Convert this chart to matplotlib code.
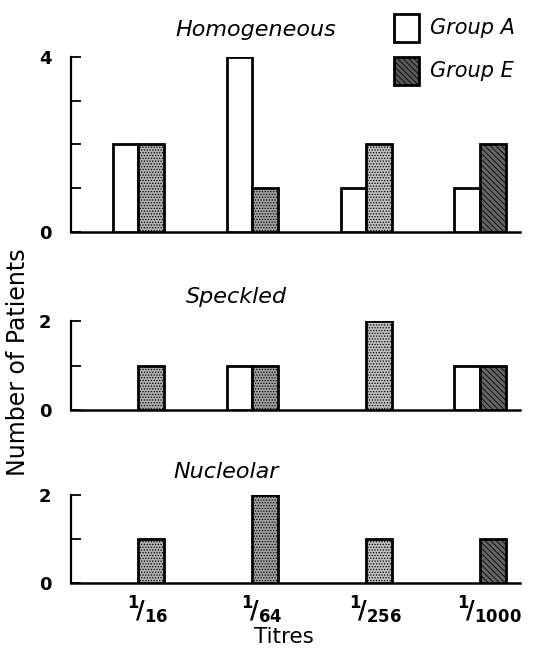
"""Three stacked bar panels: number of patients per titre, Group A vs Group E."""
import matplotlib
matplotlib.use("Agg")
import matplotlib.pyplot as plt
import numpy as np

plt.rcParams["font.family"] = ["DejaVu Sans"]
plt.rcParams["hatch.linewidth"] = 0.6

titres = [r"$\mathbf{^{1}\!/_{16}}$", r"$\mathbf{^{1}\!/_{64}}$",
          r"$\mathbf{^{1}\!/_{256}}$", r"$\mathbf{^{1}\!/_{1000}}$"]
panels = ["Homogeneous", "Speckled", "Nucleolar"]
homogeneous_a = [2, 4, 1, 1]
homogeneous_e = [2, 1, 2, 2]
speckled_a = [0, 1, 0, 1]
speckled_e = [1, 1, 2, 1]
nucleolar_a = [0, 0, 0, 0]
nucleolar_e = [1, 2, 1, 1]
y_max = [4, 2, 2]

group_a = [homogeneous_a, speckled_a, nucleolar_a]
group_e = [homogeneous_e, speckled_e, nucleolar_e]

# E shading per titre: stipple, the last one darker diagonal
e_face = ["#b0b0b0", "#a0a0a0", "#c0c0c0", "#666666"]
e_hatch = ["......", "......", "......", "\\\\\\\\\\\\"]

W, H = 534, 651
fig = plt.figure(figsize=(W / 100, H / 100), dpi=100)

# (y of zero line, y of top value) in pixels
rows = [(232, 57), (410, 321), (583, 495)]
title_pos = [(256, 30), (236, 297), (226, 472)]
x0, x1 = 71, 520
bw = 0.225
xs = np.arange(len(titres))

for k, (name, a_vals, e_vals) in enumerate(zip(panels, group_a, group_e)):
    yb, yt = rows[k]
    ax = fig.add_axes([x0 / W, 1 - yb / H, (x1 - x0) / W, (yb - yt) / H])
    for i in xs:
        if a_vals[i] > 0:
            ax.bar(i - bw / 2, a_vals[i], bw, facecolor="white",
                   edgecolor="black", lw=2, zorder=3)
        if e_vals[i] > 0:
            ax.bar(i + bw / 2, e_vals[i], bw, facecolor=e_face[i],
                   hatch=e_hatch[i], edgecolor="black", lw=2, zorder=3)
    ax.set_xlim(-0.59, 3.35)
    ax.set_ylim(0, y_max[k])
    ax.set_yticks(range(y_max[k] + 1))
    ax.set_yticklabels(["0"] + [""] * (y_max[k] - 1) + [str(y_max[k])],
                       fontsize=13, fontweight="bold")
    ax.tick_params(axis="y", direction="in", length=7, width=1.3, pad=14)
    for sp in ["top", "right"]:
        ax.spines[sp].set_visible(False)
    ax.spines["left"].set_linewidth(1.6)
    ax.spines["bottom"].set_linewidth(1.8)
    ax.patch.set_alpha(0)
    if k == 2:
        ax.set_xticks(xs + 0.08)
        ax.set_xticklabels(titres, fontsize=17)
        ax.tick_params(axis="x", length=0, pad=8)
    else:
        ax.set_xticks([])
    tx, ty = title_pos[k]
    fig.text(tx / W, 1 - ty / H, name, style="italic", fontsize=16,
             ha="center", va="center")

# legend
legend_labels = ["Group A", "Group E"]
legend_y = [28, 71]
for lab, ly, fc, ht in zip(legend_labels, legend_y, ["white", "#5a5a5a"],
                           [None, "\\\\\\\\\\\\"]):
    fig.patches.append(plt.Rectangle(((394) / W, 1 - (ly + 14) / H), 25 / W, 28 / H,
                                     transform=fig.transFigure, facecolor=fc,
                                     hatch=ht, edgecolor="black", lw=2))
    fig.text(430 / W, 1 - ly / H, lab, style="italic", fontsize=15,
             ha="left", va="center")

fig.text(18 / W, 1 - 362 / H, "Number of Patients", rotation=90, fontsize=17,
         ha="center", va="center")
fig.text(284 / W, 1 - 637 / H, "Titres", fontsize=15.5, ha="center", va="center")

fig.savefig("out.png", dpi=100)
